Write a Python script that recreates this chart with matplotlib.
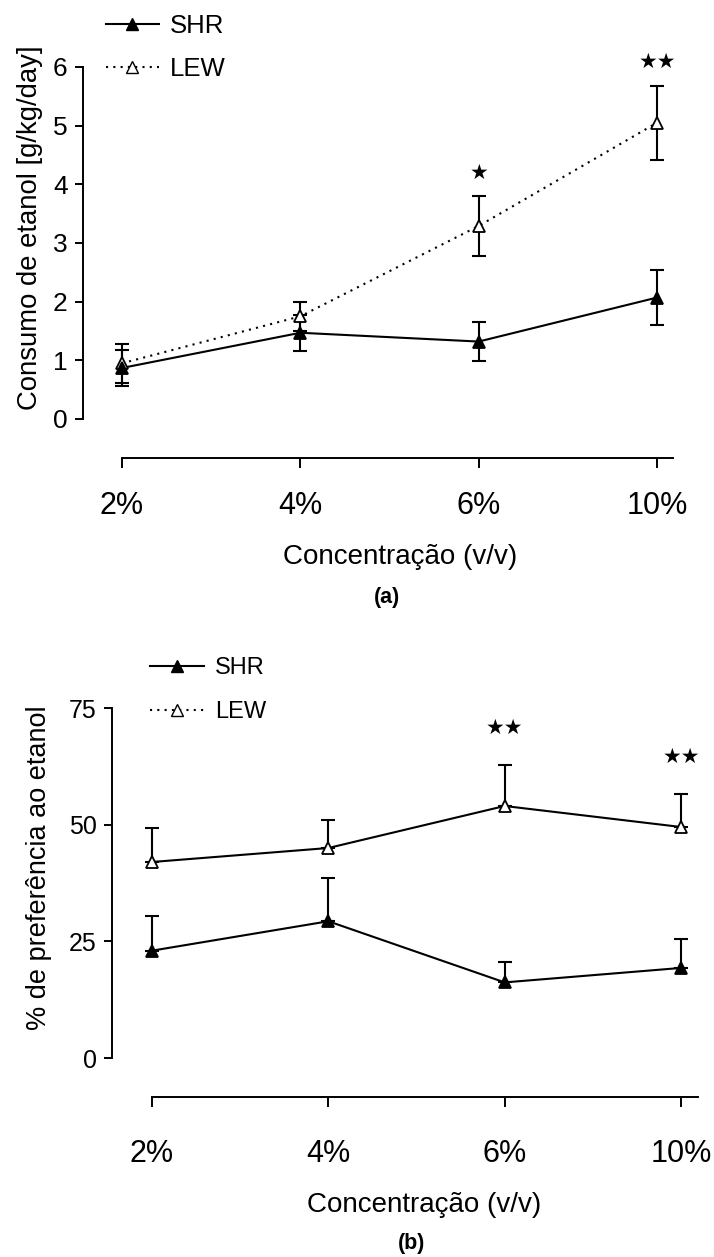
import matplotlib
matplotlib.use("Agg")
import matplotlib.pyplot as plt
from matplotlib.lines import Line2D
import numpy as np

plt.rcParams["font.family"] = ["Liberation Sans", "DejaVu Sans"]

# ---- data -------------------------------------------------------------
concentrations = ["2%", "4%", "6%", "10%"]

# (a) ethanol intake, g/kg/day (mean, SEM)
intake_shr = [0.87, 1.47, 1.32, 2.07]
intake_shr_sem = [0.30, 0.31, 0.33, 0.47]
intake_lew = [0.95, 1.75, 3.29, 5.05]
intake_lew_sem = [0.33, 0.25, 0.51, 0.63]
intake_sig = ["", "", "*", "**"]

# (b) ethanol preference, % (mean, SEM)
pref_shr = [23.0, 29.3, 16.2, 19.3]
pref_shr_sem = [7.4, 9.3, 4.4, 6.3]
pref_lew = [42.0, 45.0, 54.0, 49.5]
pref_lew_sem = [7.2, 6.0, 8.8, 7.0]
pref_sig = ["", "", "**", "**"]

intake_ticks = [0, 1, 2, 3, 4, 5, 6]
pref_ticks = [0, 25, 50, 75]

# ---- figure -----------------------------------------------------------
W, H = 714, 1257
fig = plt.figure(figsize=(W / 100, H / 100), dpi=100)
fig.patch.set_facecolor("white")


def fx(px):
    return px / W


def fy(py):
    return 1 - py / H


def panel(left, top, right, bottom, x0px, x3px, ytop_px, ytop_val, y0_px):
    """Axes placed in pixel coordinates; x positions 0..3 map to x0px..x3px."""
    ax = fig.add_axes([fx(left), fy(bottom), (right - left) / W, (bottom - top) / H])
    sx = (x3px - x0px) / 3.0
    ax.set_xlim(-(x0px - left) / sx, 3 + (right - x3px) / sx)
    sy = (y0_px - ytop_px) / ytop_val
    ax.set_ylim(-(bottom - y0_px) / sy, ytop_val)
    return ax


def style(ax, yticks, ytick_size, xpad):
    x = np.arange(len(concentrations))
    for s in ("top", "right"):
        ax.spines[s].set_visible(False)
    ax.spines["left"].set_bounds(yticks[0], yticks[-1])
    ax.spines["bottom"].set_bounds(0, ax.get_xlim()[1])
    for s in ("left", "bottom"):
        ax.spines[s].set_linewidth(1.4)
    ax.set_xticks(x)
    ax.set_xticklabels(concentrations)
    ax.set_yticks(yticks)
    ax.tick_params(axis="x", length=7, width=1.4, pad=xpad, labelsize=22)
    ax.tick_params(axis="y", length=6, width=1.4, pad=5, labelsize=ytick_size)


def draw_series(ax, mean, sem, filled, ls, two_sided):
    x = np.arange(len(mean))
    yerr = [sem, sem] if two_sided else [np.zeros(len(sem)), sem]
    ax.errorbar(x, mean, yerr=yerr, fmt="none", ecolor="black",
                elinewidth=1.5, capsize=5, capthick=1.5, zorder=2)
    ax.plot(x, mean, color="black", lw=1.5, ls=ls, zorder=3)
    ax.plot(x, mean, ls="none", marker="^", ms=8,
            mfc="black" if filled else "white", mec="black", mew=1.3, zorder=4)


def mark_sig(ax, mean, sem, labels, offset_pt):
    for i, lab in enumerate(labels):
        if lab:
            ax.annotate(lab.replace("*", "\u2605"), (i, mean[i] + sem[i]),
                        xytext=(0, offset_pt), textcoords="offset points",
                        ha="center", va="center", fontsize=15,
                        family="DejaVu Sans", annotation_clip=False)


def legend(ax, anchor_px, size, handlelen, spacing):
    handles = [
        Line2D([], [], color="black", lw=1.5, marker="^", ms=8, mfc="black"),
        Line2D([], [], color="black", lw=1.5, ls=(0, (1, 2.5)), marker="^", ms=8,
               mfc="white", mec="black"),
    ]
    ax.legend(handles, ["SHR", "LEW"], loc="upper left", frameon=False,
              bbox_to_anchor=(fx(anchor_px[0]), fy(anchor_px[1])),
              bbox_transform=fig.transFigure, borderpad=0, borderaxespad=0,
              handlelength=handlelen, handletextpad=0.45, labelspacing=spacing,
              fontsize=size)


# ---- (a) intake -------------------------------------------------------
ax1 = panel(83, 67, 673, 458, 122, 657, 67, 6, 419)
draw_series(ax1, intake_lew, intake_lew_sem, False, (0, (1, 2.5)), True)
draw_series(ax1, intake_shr, intake_shr_sem, True, "-", True)
mark_sig(ax1, intake_lew, intake_lew_sem, intake_sig, 17)
style(ax1, intake_ticks, 19, 17)
legend(ax1, (106, 14), 18.5, 2.05, 0.72)
fig.text(fx(30), fy(228), "Consumo de etanol [g/kg/day]", rotation=90,
         ha="center", va="center", fontsize=19.8)
fig.text(fx(400), fy(557), "Concentração (v/v)", ha="center", va="center", fontsize=20)
fig.text(fx(387), fy(598), "(a)", ha="center", va="center", fontsize=15.5, weight="bold")

# ---- (b) preference ---------------------------------------------------
ax2 = panel(112, 708, 698, 1097, 152, 681, 708, 75, 1058)
draw_series(ax2, pref_lew, pref_lew_sem, False, "-", False)
draw_series(ax2, pref_shr, pref_shr_sem, True, "-", False)
mark_sig(ax2, pref_lew, pref_lew_sem, pref_sig, 27)
style(ax2, pref_ticks, 18, 23)
legend(ax2, (150, 657), 17, 2.3, 0.95)
fig.text(fx(39), fy(868), "% de preferência ao etanol", rotation=90,
         ha="center", va="center", fontsize=19.5)
fig.text(fx(424), fy(1205), "Concentração (v/v)", ha="center", va="center", fontsize=20)
fig.text(fx(412), fy(1243), "(b)", ha="center", va="center", fontsize=15.5, weight="bold")

fig.savefig("out.png", dpi=100, facecolor="white")
